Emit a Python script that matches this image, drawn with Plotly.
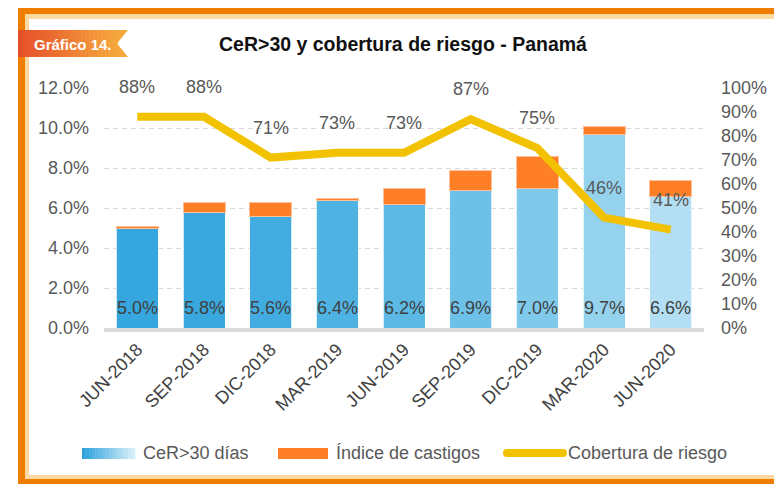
import plotly.graph_objects as go

# ---------------- data ----------------
categories = ["JUN-2018", "SEP-2018", "DIC-2018", "MAR-2019", "JUN-2019",
              "SEP-2019", "DIC-2019", "MAR-2020", "JUN-2020"]
cer30 = [5.0, 5.8, 5.6, 6.4, 6.2, 6.9, 7.0, 9.7, 6.6]          # CeR>30 días (%)
castigos = [0.1, 0.5, 0.7, 0.1, 0.8, 1.0, 1.6, 0.4, 0.8]       # Índice de castigos (%)
cobertura = [88, 88, 71, 73, 73, 87, 75, 46, 41]               # Cobertura de riesgo (%)
left_ticks = [0, 2, 4, 6, 8, 10, 12]
right_ticks = [0, 10, 20, 30, 40, 50, 60, 70, 80, 90, 100]

title_text = "CeR&gt;30 y cobertura de riesgo - Panamá"
badge_text = "Gráfico 14."
legend_labels = ["CeR&gt;30 días", "Índice de castigos", "Cobertura de riesgo"]

# ---------------- style ----------------
W, H = 774, 484
FONT = "Liberation Sans, Arial, sans-serif"
NARROW = "Liberation Sans Narrow, Liberation Sans, Arial, sans-serif"
GRAY = "#595959"
DARK = "#404040"
ORANGE_BAR = "#FF7F27"
YELLOW = "#F2C200"
FRAME_OR = "#EF7D00"
FRAME_PEACH = "#FDD9A2"


def px(x):
    return x / W


def py(y):
    return 1 - y / H


def lerp_color(c1, c2, t):
    a = [int(c1[i:i + 2], 16) for i in (1, 3, 5)]
    b = [int(c2[i:i + 2], 16) for i in (1, 3, 5)]
    return "#%02X%02X%02X" % tuple(round(a[k] + (b[k] - a[k]) * t) for k in range(3))


blue_colors = ["#35A6DE", "#39A8DF", "#42ACE0", "#4EB2E3", "#5CB9E5",
               "#6DC1E8", "#7FC9EB", "#94D2EE", "#B3DEF3"]

fig = go.Figure()
fig.add_trace(go.Bar(
    x=categories, y=cer30, name="CeR>30 días",
    marker=dict(color=blue_colors, line=dict(color="rgba(255,255,255,0.75)", width=1)),
    showlegend=False, hoverinfo="x+y"))
fig.add_trace(go.Bar(
    x=categories, y=castigos, name="Índice de castigos",
    marker=dict(color=ORANGE_BAR, line=dict(color="#FDC09A", width=1)),
    showlegend=False, hoverinfo="x+y"))
fig.add_trace(go.Scatter(
    x=categories, y=cobertura, yaxis="y2", mode="lines", name="Cobertura de riesgo",
    line=dict(color=YELLOW, width=8), showlegend=False, hoverinfo="x+y"))

annotations = []
# bar value labels (near the base of each bar)
for c, v in zip(categories, cer30):
    annotations.append(dict(x=c, y=0, xref="x", yref="y", yshift=20, text=f"{v:.1f}%",
                            showarrow=False, yanchor="middle",
                            font=dict(family=FONT, size=18, color=DARK)))
# line value labels
for c, v in zip(categories, cobertura):
    annotations.append(dict(x=c, y=v, xref="x", yref="y2", yshift=30, text=f"{v}%",
                            showarrow=False, yanchor="middle",
                            font=dict(family=FONT, size=18, color=GRAY)))
# title
annotations.append(dict(x=px(403), y=py(44), xref="paper", yref="paper", text=title_text,
                        showarrow=False, xanchor="center", yanchor="middle",
                        font=dict(family=NARROW, size=19.5, color="#111111", weight="bold")))
# badge text
annotations.append(dict(x=px(73), y=py(44), xref="paper", yref="paper", text=badge_text,
                        showarrow=False, xanchor="center", yanchor="middle",
                        font=dict(family=NARROW, size=15, color="white", weight="bold")))
# legend labels
leg_text_x = [141, 334, 566]
for lx, lab in zip(leg_text_x, legend_labels):
    annotations.append(dict(x=px(lx), y=py(453), xref="paper", yref="paper", text=lab,
                            showarrow=False, xanchor="left", yanchor="middle",
                            font=dict(family=FONT, size=18, color=GRAY)))

shapes = []


def rect(x0, y0, x1, y1, color):
    shapes.append(dict(type="rect", xref="paper", yref="paper",
                       x0=px(x0), x1=px(x1), y0=py(y0), y1=py(y1),
                       fillcolor=color, line=dict(width=0), layer="above"))


# frame
rect(18, 8, 774, 14, FRAME_OR)
rect(18, 8, 25, 484, FRAME_OR)
rect(25, 14, 774, 19, FRAME_PEACH)
rect(25, 14, 29, 479, FRAME_PEACH)
rect(25, 475, 774, 479, FRAME_PEACH)
rect(18, 479, 774, 484, FRAME_OR)

# badge ribbon with horizontal gradient
b_left, b_right, b_notch, b_top, b_bot = 18, 128, 117, 30, 57
n = 25
for i in range(n):
    x0 = b_left + (b_notch - b_left) * i / n
    x1 = b_left + (b_notch - b_left) * (i + 1) / n + 0.5
    rect(x0, b_top, x1, b_bot, lerp_color("#E5502A", "#F6A53B", i / (n - 1)))
shapes.append(dict(type="path", xref="paper", yref="paper",
                   path=(f"M {px(b_notch)},{py(b_top)} L {px(b_right)},{py(b_top)} "
                         f"L {px(b_notch)},{py((b_top + b_bot) / 2)} L {px(b_right)},{py(b_bot)} "
                         f"L {px(b_notch)},{py(b_bot)} Z"),
                   fillcolor="#F6A73B", line=dict(width=0), layer="above"))

# legend swatches
m = 16
for i in range(m):
    x0 = 82 + (135 - 82) * i / m
    x1 = 82 + (135 - 82) * (i + 1) / m + 0.4
    rect(x0, 448, x1, 459, lerp_color("#2FA2DC", "#D6EEF9", i / (m - 1)))
rect(278, 448, 328, 459, ORANGE_BAR)
rect(507, 449, 563, 457, YELLOW)
for cx in (507, 563):
    shapes.append(dict(type="circle", xref="paper", yref="paper",
                       x0=px(cx - 4), x1=px(cx + 4), y0=py(449), y1=py(457),
                       fillcolor=YELLOW, line=dict(width=0), layer="above"))

fig.update_layout(
    width=W, height=H,
    margin=dict(l=0, r=0, t=0, b=0),
    paper_bgcolor="white", plot_bgcolor="white",
    barmode="stack", bargap=0.37,
    showlegend=False,
    font=dict(family=FONT, size=18, color=GRAY),
    xaxis=dict(domain=[px(104), px(704)], showline=True, linecolor="#D9D9D9", linewidth=4,
               tickangle=-45, tickfont=dict(family=FONT, size=18, color=DARK),
               showgrid=False, ticks="", automargin=False),
    yaxis=dict(domain=[py(328), py(88)], range=[0, 12], tickvals=left_ticks,
               ticktext=[f"{v:.1f}%" for v in left_ticks],
               showgrid=True, gridcolor="#D9D9D9", griddash="5px,4px", gridwidth=1,
               zeroline=False, showline=False, ticks="", ticklabelstandoff=14,
               tickfont=dict(family=FONT, size=18, color=GRAY), automargin=False),
    yaxis2=dict(range=[0, 100], overlaying="y", side="right", tickvals=right_ticks,
                ticktext=[f"{v}%" for v in right_ticks], showgrid=False, zeroline=False,
                showline=False, ticks="", ticklabelstandoff=16,
                tickfont=dict(family=FONT, size=18, color=GRAY), automargin=False),
    annotations=annotations,
    shapes=shapes,
)

fig.write_html("out.html", config={"displayModeBar": False},
               post_script="document.body.style.margin='0px';document.body.style.padding='0px';")
